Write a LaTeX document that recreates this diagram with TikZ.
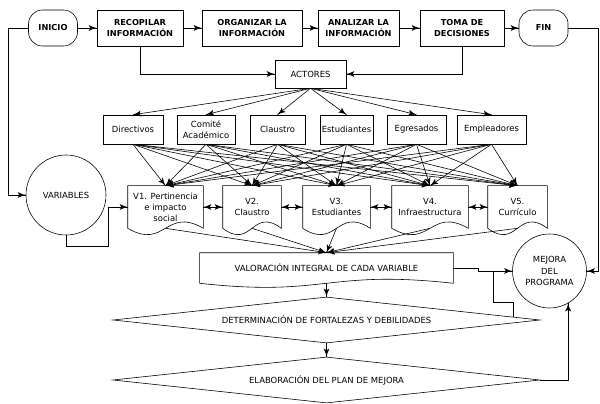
\documentclass[tikz,border=0pt]{standalone}
\usepackage{fontspec}
\setmainfont{DejaVu Sans}
\usepackage{tikz}
\usetikzlibrary{arrows}
\usetikzlibrary{calc}
\usetikzlibrary{decorations.markings}
\usetikzlibrary{shapes.geometric}
\tikzset{flow/.style = {decoration={markings,
                                    mark=at position 1 with {\arrow[scale=1.6]{latex'}}},
                        postaction={decorate}}}
\tikzset{biflow/.style = {decoration={markings,
                                      mark=at position 0 with {\arrowreversed[scale=1.6]{latex'}},
                                      mark=at position 1 with {\arrow[scale=1.6]{latex'}}},
                          postaction={decorate}}}
\tikzset{stepbox/.style = {draw, rectangle, minimum height=1.08cm, inner sep=1pt, align=center,
                           font=\fontsize{7}{9.5}\selectfont\bfseries}}
\tikzset{endbox/.style = {stepbox, rounded corners=0.42cm, minimum width=1.47cm}}
\tikzset{actor/.style = {draw, rectangle, minimum height=0.87cm, inner sep=1pt, align=center}}
\tikzset{docbox/.style = {rectangle, minimum height=1.26cm, inner sep=1pt, align=center}}
\tikzset{roundbox/.style = {draw, circle, inner sep=1pt, align=center}}
\tikzset{decision/.style = {draw, diamond, aspect=9, inner sep=1pt,
                            minimum width=12.81cm, minimum height=1.38cm}}
\newcommand{\docoutline}[2]{\draw (#1.south west) -- (#1.north west) -- (#1.north east) -- (#1.south east)
    .. controls ($(#1.south)+(0,-#2)$) and ($(#1.south)+(0,#2)$) .. (#1.south west);}

\begin{document}
\begin{tikzpicture}[x=0.03cm, y=-0.03cm, line width=0.5pt, font=\fontsize{7.2}{9.5}\selectfont]
    \fill [white] (0, 0) rectangle (600, 404);
    \useasboundingbox (0, 0) rectangle (600, 404);

    \node [endbox] (inicio) at (53, 28) {INICIO};
    \node [stepbox, minimum width=2.58cm] (recopilar) at (140, 28) {RECOPILAR\\INFORMACIÓN};
    \node [stepbox, minimum width=3.0cm] (organizar) at (252, 28) {ORGANIZAR LA\\INFORMACIÓN};
    \node [stepbox, minimum width=2.43cm] (analizar) at (358.5, 28) {ANALIZAR LA\\INFORMACIÓN};
    \node [stepbox, minimum width=2.52cm] (toma) at (462, 28) {TOMA DE\\DECISIONES};
    \node [endbox] (fin) at (543.5, 28) {FIN};

    \draw [flow] (inicio.east) -- (recopilar.west);
    \draw [flow] (recopilar.east) -- (organizar.west);
    \draw [flow] (organizar.east) -- (analizar.west);
    \draw [flow] (analizar.east) -- (toma.west);
    \draw [flow] (toma.east) -- (fin.west);

    \node [actor, minimum width=2.13cm, minimum height=0.84cm] (actores) at (310.5, 74) {ACTORES};
    \draw [flow] (recopilar.south) |- (actores.west);
    \draw [flow] (toma.south) |- (actores.east);

    \node [actor, minimum width=1.8cm] (directivos) at (133, 129.5) {Directivos};
    \node [actor, minimum width=1.74cm] (comite) at (206, 129.5) {Comité\\Académico};
    \node [actor, minimum width=1.65cm] (claustro) at (277.5, 129.5) {Claustro};
    \node [actor, minimum width=1.59cm] (estudiantes) at (346.5, 129.5) {Estudiantes};
    \node [actor, minimum width=1.77cm] (egresados) at (416.5, 129.5) {Egresados};
    \node [actor, minimum width=2.07cm] (empleadores) at (491.5, 129.5) {Empleadores};

    \node [docbox, minimum width=2.25cm] (v1) at (165.5, 207) {V1. Pertinencia\\e impacto\\social};
    \node [docbox, minimum width=1.74cm] (v2) at (252, 207) {V2.\\Claustro};
    \node [docbox, minimum width=2.01cm] (v3) at (336.5, 207) {V3.\\Estudiantes};
    \node [docbox, minimum width=2.28cm] (v4) at (430, 207) {V4.\\Infraestructura};
    \node [docbox, minimum width=1.77cm] (v5) at (517.5, 207) {V5.\\Currículo};
    \foreach \v in {v1, v2, v3, v4, v5}
        \docoutline{\v}{22};

    \foreach \a in {directivos, comite, claustro, estudiantes, egresados, empleadores} {
        \draw [flow] (actores.south) -- (\a.north);
        \foreach \v in {v1, v2, v3, v4, v5}
            \draw [flow] (\a.south) -- (\v.north);
    }

    \draw [biflow] (v1.east) -- (v2.west);
    \draw [biflow] (v2.east) -- (v3.west);
    \draw [biflow] (v3.east) -- (v4.west);
    \draw [biflow] (v4.east) -- (v5.west);

    \node [roundbox, minimum size=2.4cm] (variables) at (66, 195) {VARIABLES};
    \coordinate (leftbend) at (8, 28);
    \draw [flow] (inicio.west) -- (leftbend) |- (variables.west);
    \coordinate (varbend) at (108, 246);
    \draw [flow] (variables.south) |- (varbend) |- (v1.west);

    \node [docbox, minimum width=7.59cm, minimum height=0.9cm] (valoracion) at (326.5, 268)
        {VALORACIÓN INTEGRAL DE CADA VARIABLE};
    \docoutline{valoracion}{14}
    \foreach \v in {v1, v2, v3, v4, v5}
        \draw [flow] (\v.south) -- (valoracion.north);

    \node [decision] (det) at (326.5, 320) {DETERMINACIÓN DE FORTALEZAS Y DEBILIDADES};
    \node [decision] (elab) at (326.5, 380) {ELABORACIÓN DEL PLAN DE MEJORA};
    \draw [flow] (valoracion.south) -- (det.north);
    \draw [flow] (det.south) -- (elab.north);

    \node [roundbox, minimum size=2.22cm] (mejora) at (549.5, 271) {MEJORA\\DEL\\PROGRAMA};
    \coordinate (valstep) at (478, 268);
    \draw [flow] (valoracion.east) -- (valstep) |- (mejora.west);
    \coordinate (detbend) at (493, 302);
    \coordinate (detjoin) at (493, 271);
    \draw ($(det.north)!0.874!(det.east)$) |- (detbend) -- (detjoin);
    \draw [flow] (elab.east) -| (mejora.300);
    \coordinate (rightbend) at (598, 28);
    \draw [flow] (fin.east) -- (rightbend) |- (mejora.east);
\end{tikzpicture}
\end{document}
